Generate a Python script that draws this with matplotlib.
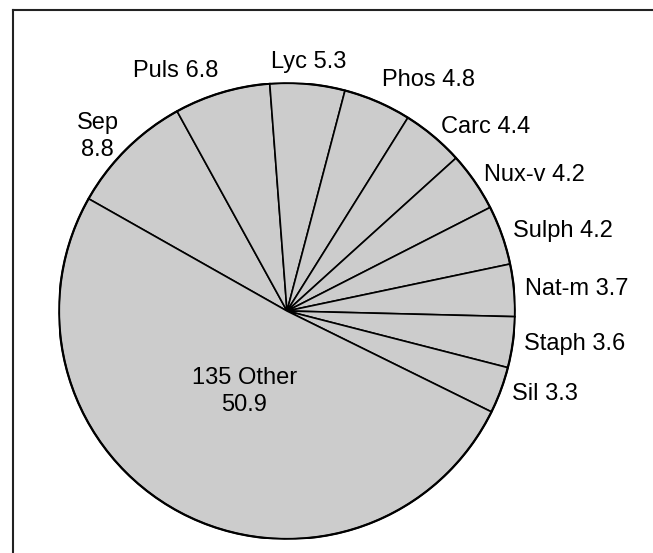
import numpy as np
import matplotlib.pyplot as plt
from matplotlib.lines import Line2D

plt.rcParams['font.family'] = ['Liberation Sans', 'DejaVu Sans']

# Remedy shares (percent), clockwise from the upper-left
names = ['Sep', 'Puls', 'Lyc', 'Phos', 'Carc', 'Nux-v', 'Sulph', 'Nat-m', 'Staph', 'Sil', '135 Other']
shares = [8.8, 6.8, 5.3, 4.8, 4.4, 4.2, 4.2, 3.7, 3.6, 3.3, 50.9]
labels = ['Sep\n8.8', 'Puls 6.8', 'Lyc 5.3', 'Phos 4.8', 'Carc 4.4', 'Nux-v 4.2',
          'Sulph 4.2', 'Nat-m 3.7', 'Staph 3.6', 'Sil 3.3', '135 Other\n50.9']

W, H = 653, 553
fig = plt.figure(figsize=(W / 100, H / 100), dpi=100)

# frame (cropped box: only top and left sides visible)
fig.add_artist(Line2D([13 / W, 1.0], [1 - 10 / H, 1 - 10 / H], transform=fig.transFigure,
                      color='#222222', lw=1.5))
fig.add_artist(Line2D([13 / W, 13 / W], [0.0, 1 - 10 / H], transform=fig.transFigure,
                      color='#222222', lw=1.5))

# pie centre and radius in pixels
cx, cy, r = 287, 311, 228
ax = fig.add_axes([(cx - r) / W, (H - cy - r) / H, 2 * r / W, 2 * r / H])

wedges, _ = ax.pie(shares, startangle=150.5, counterclock=False,
                   colors=['#cccccc'] * len(shares),
                   wedgeprops=dict(edgecolor='black', linewidth=1.2))
ax.set_xlim(-1, 1)
ax.set_ylim(-1, 1)
ax.axis('off')

for w, lab in zip(wedges, labels):
    mid = np.deg2rad((w.theta1 + w.theta2) / 2)
    c, s = np.cos(mid), np.sin(mid)
    if lab.startswith('135'):
        ax.text(0.4 * c, 0.4 * s, lab, ha='center', va='center', fontsize=17,
                multialignment='center', linespacing=1.25)
        continue
    ha = 'left' if c > 0.2 else ('right' if c < -0.2 else 'center')
    va = 'bottom' if s > 0.85 else 'center'
    ax.annotate(lab, (1.05 * c, 1.05 * s), xytext=(0, 3 if '\n' in lab else 0),
                textcoords='offset points', ha=ha, va=va, fontsize=17,
                multialignment='center', linespacing=1.25, annotation_clip=False)

# outer rim a touch heavier
ax.add_patch(plt.Circle((0, 0), 1, fill=False, ec='black', lw=1.6))

fig.savefig('out.png', dpi=100)
